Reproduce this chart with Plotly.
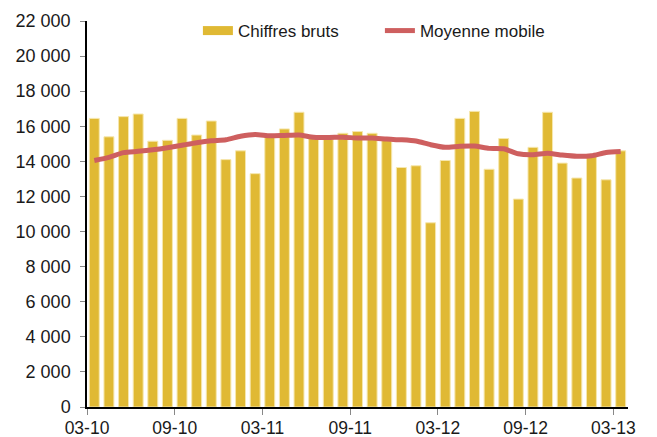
import plotly.graph_objects as go

months = ["03-10","04-10","05-10","06-10","07-10","08-10","09-10","10-10","11-10","12-10","01-11","02-11",
          "03-11","04-11","05-11","06-11","07-11","08-11","09-11","10-11","11-11","12-11","01-12","02-12",
          "03-12","04-12","05-12","06-12","07-12","08-12","09-12","10-12","11-12","12-12","01-13","02-13","03-13"]
raw = [16450, 15400, 16550, 16700, 15150, 15200, 16450, 15500, 16300, 14100, 14600, 13300,
       15450, 15850, 16800, 15300, 15250, 15600, 15700, 15600, 15250, 13650, 13750, 10500,
       14050, 16450, 16850, 13550, 15300, 11850, 14800, 16800, 13900, 13050, 14400, 12950, 14600]
moving = [14050, 14230, 14500, 14570, 14660, 14780, 14920, 15060, 15170, 15230, 15430, 15530,
          15460, 15480, 15500, 15380, 15360, 15380, 15330, 15330, 15270, 15230, 15160, 14950,
          14800, 14860, 14870, 14740, 14720, 14430, 14380, 14460, 14360, 14290, 14320, 14500, 14560]
tick_labels = ["03-10", "09-10", "03-11", "09-11", "03-12", "09-12", "03-13"]
y_ticks = list(range(0, 22001, 2000))
y_tick_text = [f"{v:,}".replace(",", " ") for v in y_ticks]

BAR_COLOR = "#E0B934"
LINE_COLOR = "#CE5F5F"

x = [i + 0.5 for i in range(len(months))]
tick_pos = [months.index(t) for t in tick_labels]

fig = go.Figure()
fig.add_trace(go.Bar(x=x, y=raw, name="Chiffres bruts", showlegend=False,
                     marker=dict(color=BAR_COLOR, line=dict(color="#F6E7AE", width=1)),
                     width=0.68))
# legend-only entry so the bar series shows a wide rectangle swatch
fig.add_trace(go.Scatter(x=[None], y=[None], name="Chiffres bruts", mode="lines",
                         line=dict(color=BAR_COLOR, width=9)))
fig.add_trace(go.Scatter(x=x, y=moving, name="Moyenne mobile", mode="lines",
                         line=dict(color=LINE_COLOR, width=5, shape="spline", smoothing=0.6)))

fig.update_layout(
    width=657, height=437,
    margin=dict(l=87, r=29, t=21, b=30),
    paper_bgcolor="white", plot_bgcolor="white",
    font=dict(family="Liberation Sans, Arial, sans-serif", size=17, color="#1a1a1a"),
    showlegend=True,
    legend=dict(orientation="h", x=0.205, xanchor="left", y=0.974, yanchor="middle",
                font=dict(size=17), bgcolor="rgba(0,0,0,0)", traceorder="normal",
                entrywidth=137, entrywidthmode="pixels"),
    xaxis=dict(range=[0, len(months)], tickmode="array", tickvals=tick_pos, ticktext=tick_labels,
               showgrid=False, zeroline=False, showline=True, linecolor="black", linewidth=1.5,
               ticks="outside", ticklen=6, tickcolor="#888888", tickfont=dict(size=17.5),
               ticklabelstandoff=-2, automargin=False),
    yaxis=dict(range=[0, 22000], tickmode="array", tickvals=y_ticks, ticktext=y_tick_text,
               showgrid=False, zeroline=False, showline=True, linecolor="black", linewidth=1.5,
               ticks="outside", ticklen=5, tickcolor="#888888", tickfont=dict(size=18),
               ticklabelstandoff=6, automargin=False),
)

fig.write_html("out.html", config={"displayModeBar": False},
               post_script="document.body.style.margin='0';document.body.style.overflow='hidden';")
